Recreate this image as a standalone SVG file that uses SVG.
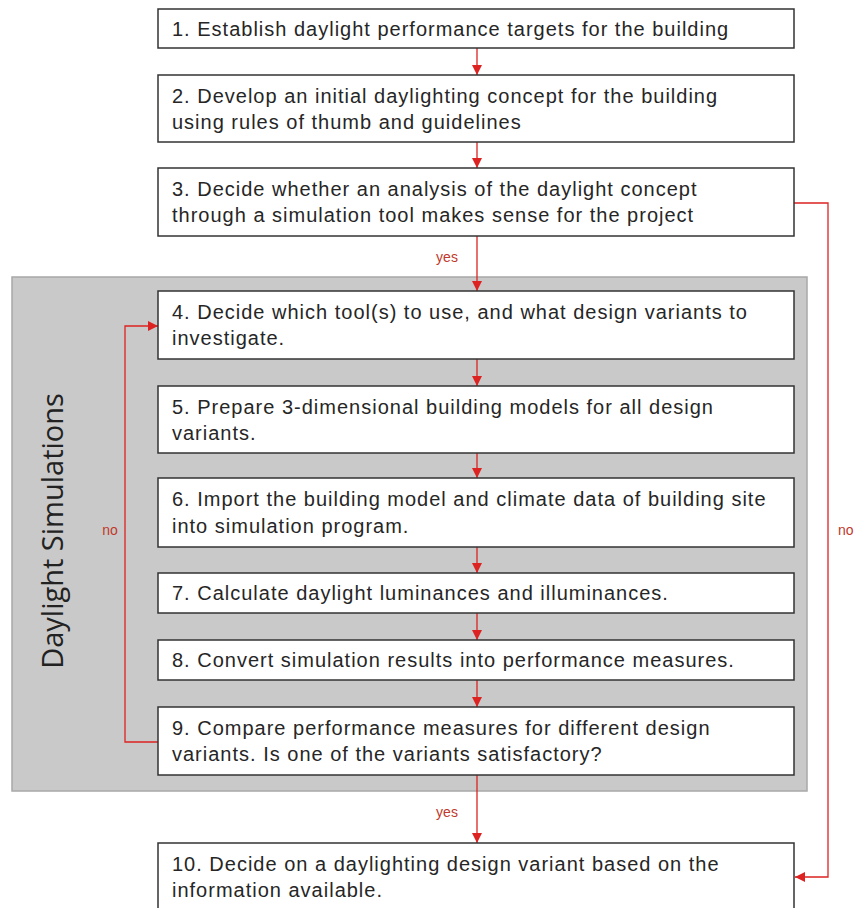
<svg xmlns="http://www.w3.org/2000/svg" width="854" height="908" viewBox="0 0 854 908">
<style>
.box{fill:#fff;stroke:#333;stroke-width:1.5}
.t{font-family:"Liberation Sans",Arial,sans-serif;font-size:20px;letter-spacing:1px;fill:#262626}
.c{fill:none;stroke:#d22;stroke-width:1.3}
.lab{font-family:"Liberation Sans",Arial,sans-serif;font-size:14px;fill:#c0392b}
</style>
<defs>
<marker id="ah" viewBox="0 0 10 10" refX="10" refY="5" markerWidth="10" markerHeight="10" markerUnits="userSpaceOnUse" orient="auto">
<path d="M0,0 L10,5 L0,10 Z" fill="#d22"/>
</marker>
</defs>
<rect id="panel" x="12" y="277" width="795" height="514" fill="#c9c9c9" stroke="#a8a8a8" stroke-width="1.5"/>
<text x="63" y="531" transform="rotate(-90 63 531)" text-anchor="middle" font-family="'Open Sans','Noto Sans',sans-serif" font-size="29" fill="#222">Daylight Simulations</text>
<g id="connectors">
<line class="c" x1="477" y1="48" x2="477" y2="75" marker-end="url(#ah)"/>
<line class="c" x1="477" y1="142" x2="477" y2="168" marker-end="url(#ah)"/>
<line class="c" x1="477" y1="236" x2="477" y2="291" marker-end="url(#ah)"/>
<line class="c" x1="477" y1="359" x2="477" y2="386" marker-end="url(#ah)"/>
<line class="c" x1="477" y1="453" x2="477" y2="478" marker-end="url(#ah)"/>
<line class="c" x1="477" y1="547" x2="477" y2="573" marker-end="url(#ah)"/>
<line class="c" x1="477" y1="613" x2="477" y2="640" marker-end="url(#ah)"/>
<line class="c" x1="477" y1="680" x2="477" y2="707" marker-end="url(#ah)"/>
<line class="c" x1="477" y1="775" x2="477" y2="843" marker-end="url(#ah)"/>
<polyline class="c" points="158,742 125,742 125,326 158,326" marker-end="url(#ah)"/>
<polyline class="c" points="794,203 828,203 828,877 795,877" marker-end="url(#ah)"/>
<text class="lab" x="447" y="262" text-anchor="middle">yes</text>
<text class="lab" x="447" y="817" text-anchor="middle">yes</text>
<text class="lab" x="110" y="535" text-anchor="middle">no</text>
<text class="lab" x="838" y="535">no</text>
</g>
<g id="n1"><rect class="box" x="158" y="9" width="636" height="39"/><text class="t" x="172" y="36">1. Establish daylight performance targets for the building</text></g>
<g id="n2"><rect class="box" x="158" y="75" width="636" height="67"/><text class="t" x="172" y="103">2. Develop an initial daylighting concept for the building</text><text class="t" x="172" y="129">using rules of thumb and guidelines</text></g>
<g id="n3"><rect class="box" x="158" y="168" width="636" height="68"/><text class="t" x="172" y="196">3. Decide whether an analysis of the daylight concept</text><text class="t" x="172" y="222">through a simulation tool makes sense for the project</text></g>
<g id="n4"><rect class="box" x="158" y="291" width="636" height="68"/><text class="t" x="172" y="319">4. Decide which tool(s) to use, and what design variants to</text><text class="t" x="172" y="345">investigate.</text></g>
<g id="n5"><rect class="box" x="158" y="386" width="636" height="67"/><text class="t" x="172" y="414">5. Prepare 3-dimensional building models for all design</text><text class="t" x="172" y="440">variants.</text></g>
<g id="n6"><rect class="box" x="158" y="478" width="636" height="69"/><text class="t" x="172" y="506">6. Import the building model and climate data of building site</text><text class="t" x="172" y="533">into simulation program.</text></g>
<g id="n7"><rect class="box" x="158" y="573" width="636" height="40"/><text class="t" x="172" y="600">7. Calculate daylight luminances and illuminances.</text></g>
<g id="n8"><rect class="box" x="158" y="640" width="636" height="40"/><text class="t" x="172" y="667">8. Convert simulation results into performance measures.</text></g>
<g id="n9"><rect class="box" x="158" y="707" width="636" height="68"/><text class="t" x="172" y="735">9. Compare performance measures for different design</text><text class="t" x="172" y="761">variants. Is one of the variants satisfactory?</text></g>
<g id="n10"><rect class="box" x="158" y="843" width="636" height="70"/><text class="t" x="172" y="871">10. Decide on a daylighting design variant based on the</text><text class="t" x="172" y="897">information available.</text></g>
</svg>
